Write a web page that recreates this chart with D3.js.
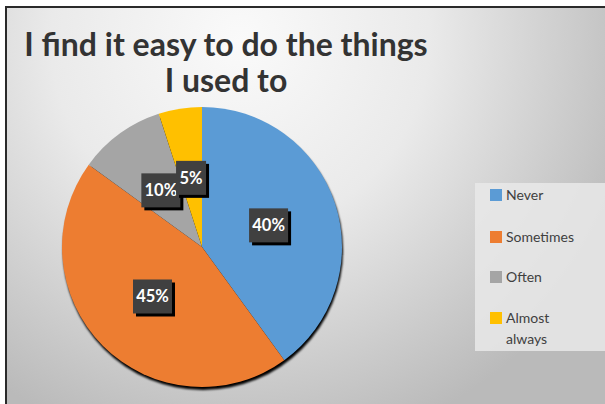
<!DOCTYPE html>
<html>
<head>
<meta charset="utf-8">
<script src="https://cdn.jsdelivr.net/npm/d3@7"></script>
<style>
  body { margin: 0; background: #fff; }
  svg { display: block; }
</style>
</head>
<body>
<svg id="chart" width="605" height="404"></svg>
<script>
let categories = ['Never', 'Sometimes', 'Often', 'Almost always'];
let values = [40, 45, 10, 5];
let colors = ['#5B9BD5', '#ED7D31', '#A5A5A5', '#FFC000'];
let titleLines = ['I find it easy to do the things', 'I used to'];

let W = 605, H = 404;
let cx = 202, cy = 247, R = 140;

let svg = d3.select('#chart');
let defs = svg.append('defs');

// background gradient
let grad = defs.append('radialGradient')
  .attr('id', 'bg')
  .attr('gradientUnits', 'userSpaceOnUse')
  .attr('cx', 240).attr('cy', 40).attr('r', 420);
grad.append('stop').attr('offset', '0%').attr('stop-color', '#fafafa');
grad.append('stop').attr('offset', '45%').attr('stop-color', '#eaeaea');
grad.append('stop').attr('offset', '100%').attr('stop-color', '#bababa');

let blur = defs.append('filter').attr('id', 'pieShadow')
  .attr('x', '-10%').attr('y', '-10%').attr('width', '120%').attr('height', '120%');
blur.append('feGaussianBlur').attr('stdDeviation', 1.2);

svg.append('rect')
  .attr('x', 6).attr('y', 7)
  .attr('width', W - 6).attr('height', H - 7)
  .attr('fill', 'url(#bg)');

// frame border (top and left)
svg.append('path')
  .attr('d', `M6,${H} L6,7 L${W},7`)
  .attr('fill', 'none')
  .attr('stroke', '#2a2a2a')
  .attr('stroke-width', 2);

// title, two lines in one text element
let title = svg.append('text')
  .attr('x', 226)
  .attr('y', 56)
  .attr('text-anchor', 'middle')
  .attr('font-family', 'Lato, "Open Sans", sans-serif')
  .attr('font-weight', 'bold')
  .attr('font-size', 32)
  .attr('fill', '#333');
title.selectAll('tspan')
  .data(titleLines)
  .join('tspan')
  .attr('x', 226)
  .attr('dy', (d, i) => i === 0 ? 0 : 36)
  .text(d => d);

// pie
let pie = d3.pie().sort(null).value(d => d);
let arcs = pie(values);
let arc = d3.arc().innerRadius(0).outerRadius(R);

let gPie = svg.append('g').attr('transform', `translate(${cx},${cy})`);

gPie.append('circle')
  .attr('cx', 1).attr('cy', 3).attr('r', R)
  .attr('fill', '#000')
  .attr('filter', 'url(#pieShadow)');

gPie.selectAll('path')
  .data(arcs)
  .join('path')
  .attr('d', arc)
  .attr('fill', (d, i) => colors[i]);

// data labels
let total = d3.sum(values);
let labels = gPie.selectAll('g.lbl')
  .data(arcs)
  .join('g')
  .attr('class', 'lbl')
  .attr('transform', d => {
    let c = arc.centroid(d);
    return `translate(${c[0]},${c[1]})`;
  });

labels.each(function (d, i) {
  let g = d3.select(this);
  let txt = Math.round(d.data / total * 100) + '%';
  let w = txt.length > 2 ? 39 : 30;
  let h = 34;
  g.append('rect')
    .attr('x', -w / 2 + 3).attr('y', -h / 2 + 3)
    .attr('width', w).attr('height', h)
    .attr('fill', '#000');
  g.append('rect')
    .attr('x', -w / 2).attr('y', -h / 2)
    .attr('width', w).attr('height', h)
    .attr('fill', '#404040');
  g.append('text')
    .attr('x', 0).attr('y', 6)
    .attr('text-anchor', 'middle')
    .attr('font-family', 'Lato, "Open Sans", sans-serif')
    .attr('font-weight', 'bold')
    .attr('font-size', 16.5)
    .attr('fill', '#fff')
    .text(txt);
});

// legend
let gLeg = svg.append('g');
gLeg.append('rect')
  .attr('x', 475).attr('y', 183)
  .attr('width', W - 475).attr('height', 168)
  .attr('fill', '#e9e9e9')
  .attr('opacity', 0.85);

let legY = [195, 237, 277, 318];
let item = gLeg.selectAll('g.item')
  .data(categories)
  .join('g')
  .attr('class', 'item')
  .attr('transform', (d, i) => `translate(490,${legY[i]})`);

item.append('rect')
  .attr('x', 0).attr('y', -6)
  .attr('width', 12).attr('height', 12)
  .attr('fill', (d, i) => colors[i]);

item.append('text')
  .attr('x', 16)
  .attr('y', 5)
  .attr('font-family', 'Lato, "Open Sans", sans-serif')
  .attr('font-size', 14)
  .attr('fill', '#404040')
  .each(function (d) {
    let words = d === 'Almost always' ? ['Almost', 'always'] : [d];
    d3.select(this).selectAll('tspan')
      .data(words)
      .join('tspan')
      .attr('x', 16)
      .attr('dy', (w, j) => j === 0 ? 0 : 21)
      .text(w => w);
  });
</script>
</body>
</html>
